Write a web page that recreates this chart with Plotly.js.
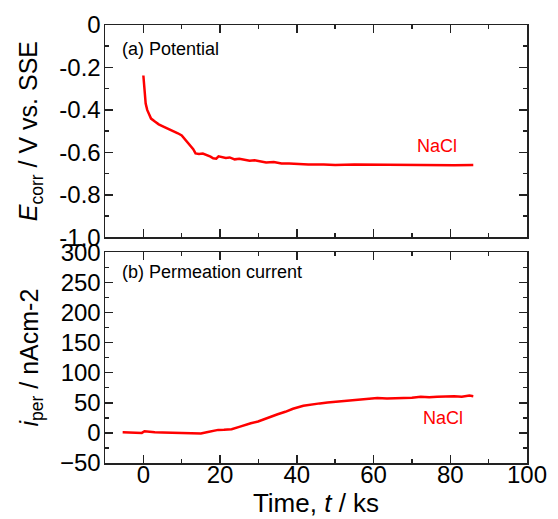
<!DOCTYPE html>
<html>
<head>
<meta charset="utf-8">
<script src="https://cdn.plot.ly/plotly-3.0.1.min.js"></script>
<style>html,body{margin:0;padding:0;background:#fff;}#chart{width:558px;height:519px;}</style>
</head>
<body>
<div id="chart"></div>
<script>
// ---- Data ----
const timePotential = [0, 0.1, 0.3, 0.6, 1, 1.5, 2, 3, 4, 5.5, 7, 8, 9, 10, 11, 12, 13, 13.6, 14.5, 15.5, 16.5, 17.5, 18.2, 19, 19.6, 20.5, 21.5, 22.5, 23.8, 25, 26.4, 27.7, 29, 30.5, 32, 34, 36, 38, 40, 43, 47, 50, 55, 60, 65, 69, 73, 77, 81, 86];
const potential = [-0.238, -0.27, -0.32, -0.37, -0.40, -0.425, -0.441, -0.455, -0.468, -0.481, -0.492, -0.50, -0.51, -0.52, -0.54, -0.562, -0.585, -0.605, -0.608, -0.606, -0.612, -0.62, -0.628, -0.63, -0.619, -0.622, -0.626, -0.624, -0.633, -0.63, -0.636, -0.64, -0.637, -0.644, -0.648, -0.645, -0.652, -0.653, -0.656, -0.657, -0.657, -0.659, -0.657, -0.658, -0.660, -0.658, -0.660, -0.659, -0.661, -0.660];

const timeCurrent = [-5.4, -3, -1, -0.4, 0.3, 1, 3, 5, 7, 9, 11, 13.4, 15, 16.5, 18, 19.5, 21, 23, 25, 26.4, 28, 29.9, 31.5, 33.4, 35, 37, 39, 41.7, 44, 46, 48, 50.4, 52.5, 54.8, 57, 59.2, 61, 63.5, 66, 67.9, 70, 72.3, 74.5, 76.6, 78.5, 81, 83, 85, 86];
const current = [1, 0.8, 0.5, 0, 2.7, 2, 1.2, 0.8, 0.5, 0, -0.5, -1.7, -1, 1, 3, 5, 5.2, 6, 10, 13, 16, 19, 23, 27, 31, 35, 40, 45, 47.5, 49, 50.5, 52, 53.5, 55, 56, 57.5, 58, 57, 57.5, 57.5, 58.5, 60, 59, 60, 60.5, 61, 60, 62, 61];

const seriesName = "NaCl";
const panelLabels = ["(a) Potential", "(b) Permeation current"];
const xTicks = [0, 20, 40, 60, 80, 100];
const potentialTicks = [0, -0.2, -0.4, -0.6, -0.8, -1.0];
const potentialTickText = ["0", "-0.2", "-0.4", "-0.6", "-0.8", "-1.0"];
const currentTicks = [-50, 0, 50, 100, 150, 200, 250, 300];

// ---- Styling ----
const FONT = "Liberation Sans, Arial, sans-serif";
const red = "#ff0000";
const axisColor = "#222222";

function axisBase(extra) {
  return Object.assign({
    showline: true, linecolor: axisColor, linewidth: 1.5, mirror: "ticks",
    ticks: "inside", ticklen: 8, tickwidth: 1.5, tickcolor: axisColor,
    showgrid: false, zeroline: false,
    tickfont: {family: FONT, size: 24, color: "#000"}
  }, extra);
}
const minorStyle = {ticks: "inside", ticklen: 4, tickwidth: 1.5, tickcolor: axisColor};

const traces = [
  {x: timePotential, y: potential, xaxis: "x", yaxis: "y", type: "scatter", mode: "lines",
   name: seriesName, line: {color: red, width: 2.5}},
  {x: timeCurrent, y: current, xaxis: "x2", yaxis: "y2", type: "scatter", mode: "lines",
   name: seriesName, line: {color: red, width: 2.5}}
];

const layout = {
  width: 558, height: 519,
  margin: {l: 105, r: 31, t: 24.5, b: 56},
  paper_bgcolor: "#fff", plot_bgcolor: "#fff",
  showlegend: false,
  font: {family: FONT, color: "#000"},
  xaxis: axisBase({domain: [0, 1], anchor: "y", range: [-10, 100], tickvals: xTicks,
    showticklabels: false, minor: Object.assign({dtick: 10}, minorStyle)}),
  yaxis: axisBase({domain: [0.5154, 1], anchor: "x", range: [-1.0, 0],
    tickvals: potentialTicks, ticktext: potentialTickText, ticklabelstandoff: -2,
    minor: Object.assign({dtick: 0.1}, minorStyle),
    title: {text: "<i>E</i><sub>corr</sub> / V vs. SSE", standoff: 14, font: {family: FONT, size: 25, color: "#000"}}}),
  xaxis2: axisBase({domain: [0, 1], anchor: "y2", range: [-10, 100], tickvals: xTicks,
    ticklabelstandoff: -10,
    minor: Object.assign({dtick: 10}, minorStyle),
    title: {text: "Time, <i>t</i> / ks", font: {family: FONT, size: 26, color: "#000"}, standoff: 6}}),
  yaxis2: axisBase({domain: [0, 0.4812], anchor: "x2", range: [-50, 300], tickvals: currentTicks,
    ticklabelstandoff: -2,
    minor: Object.assign({dtick: 25}, minorStyle),
    title: {text: "<i>i</i><sub>per</sub> / nAcm-2", standoff: 14, font: {family: FONT, size: 25, color: "#000"}}}),
  annotations: [
    {xref: "x domain", yref: "y domain", x: 0.035, y: 0.885, xanchor: "left", yanchor: "middle",
     text: panelLabels[0], showarrow: false, font: {family: FONT, size: 18, color: "#000"}},
    {xref: "x2 domain", yref: "y2 domain", x: 0.035, y: 0.905, xanchor: "left", yanchor: "middle",
     text: panelLabels[1], showarrow: false, font: {family: FONT, size: 18, color: "#000"}},
    {xref: "x", yref: "y", x: 76.5, y: -0.57, xanchor: "center", yanchor: "middle",
     text: seriesName, showarrow: false, font: {family: FONT, size: 18, color: red}},
    {xref: "x2", yref: "y2", x: 78, y: 25, xanchor: "center", yanchor: "middle",
     text: seriesName, showarrow: false, font: {family: FONT, size: 18, color: red}}
  ]
};

Plotly.newPlot("chart", traces, layout, {displayModeBar: false, staticPlot: true});
</script>
</body>
</html>
